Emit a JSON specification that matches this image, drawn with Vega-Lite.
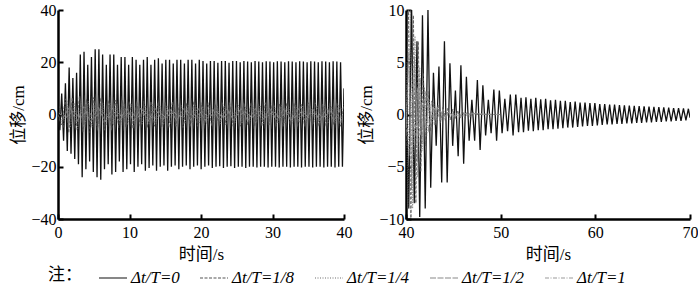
{
"$schema": "https://vega.github.io/schema/vega-lite/v6.json",
"padding": {"left": 9, "top": 2, "right": 0, "bottom": 0},
"background": "white",
"bounds": "flush",
"spacing": 62,
"config": {
  "font": "Liberation Serif",
  "view": {"stroke": null},
  "axis": {"grid": false, "domainColor": "#000", "domainWidth": 2.5, "tickColor": "#000", "tickWidth": 2, "tickSize": -5, "labelFont": "Liberation Serif", "labelFontSize": 16, "labelColor": "#000", "titleFont": "Liberation Serif, Noto Sans CJK SC", "titleFontSize": 17, "titleFontWeight": "normal", "titleColor": "#000", "labelFlush": false},
  "axisX": {"titlePadding": 6, "labelPadding": 10},
  "axisY": {"titlePadding": 3, "labelPadding": 7},
  "legend": {"orient": "none", "legendX": -10, "legendY": 253, "direction": "horizontal", "titleOrient": "left", "symbolType": "stroke", "symbolSize": 784, "symbolStrokeWidth": 1.2, "labelFont": "Liberation Serif", "labelFontSize": 17, "labelFontStyle": "italic", "labelColor": "#000", "labelOffset": 3, "columnPadding": 17, "titleFont": "Noto Sans CJK SC", "titleFontSize": 17, "titleFontWeight": "normal", "titleColor": "#000", "titlePadding": 16}
},
"datasets": {
"L": [
{"s":"0","t":0,"y":0},{"s":"0","t":0.26,"y":-6},{"s":"0","t":0.52,"y":8},{"s":"0","t":0.78,"y":-10},{"s":"0","t":1.04,"y":12},{"s":"0","t":1.3,"y":-14},{"s":"0","t":1.56,"y":18},{"s":"0","t":1.82,"y":-15},{"s":"0","t":2.08,"y":14},{"s":"0","t":2.34,"y":-17},{"s":"0","t":2.6,"y":16},{"s":"0","t":2.86,"y":-19},{"s":"0","t":3.12,"y":23},{"s":"0","t":3.38,"y":-24},{"s":"0","t":3.64,"y":24},{"s":"0","t":3.9,"y":-21},{"s":"0","t":4.16,"y":19},{"s":"0","t":4.42,"y":-18},{"s":"0","t":4.68,"y":22},{"s":"0","t":4.94,"y":-22},{"s":"0","t":5.2,"y":25},{"s":"0","t":5.46,"y":-24},{"s":"0","t":5.72,"y":25},{"s":"0","t":5.98,"y":-25},{"s":"0","t":6.24,"y":23},{"s":"0","t":6.5,"y":-21},{"s":"0","t":6.76,"y":19},{"s":"0","t":7.02,"y":-19},{"s":"0","t":7.28,"y":23},{"s":"0","t":7.54,"y":-23},{"s":"0","t":7.8,"y":23},{"s":"0","t":8.06,"y":-22},{"s":"0","t":8.32,"y":19},{"s":"0","t":8.58,"y":-18},{"s":"0","t":8.84,"y":22},{"s":"0","t":9.1,"y":-22},{"s":"0","t":9.36,"y":22},{"s":"0","t":9.62,"y":-21},{"s":"0","t":9.88,"y":19},{"s":"0","t":10.14,"y":-19},{"s":"0","t":10.4,"y":22},{"s":"0","t":10.66,"y":-22},{"s":"0","t":10.92,"y":21},{"s":"0","t":11.18,"y":-20},{"s":"0","t":11.44,"y":19},{"s":"0","t":11.7,"y":-19},{"s":"0","t":11.96,"y":21},{"s":"0","t":12.22,"y":-21.5},{"s":"0","t":12.48,"y":22},{"s":"0","t":12.74,"y":-20.5},{"s":"0","t":13,"y":19},{"s":"0","t":13.26,"y":-19.5},{"s":"0","t":13.52,"y":21},{"s":"0","t":13.78,"y":-21.5},{"s":"0","t":14.04,"y":21.5},{"s":"0","t":14.3,"y":-20},{"s":"0","t":14.56,"y":19.5},{"s":"0","t":14.82,"y":-19.5},{"s":"0","t":15.08,"y":21},{"s":"0","t":15.34,"y":-21.5},{"s":"0","t":15.6,"y":21},{"s":"0","t":15.86,"y":-20},{"s":"0","t":16.12,"y":19.5},{"s":"0","t":16.38,"y":-19.5},{"s":"0","t":16.64,"y":21},{"s":"0","t":16.9,"y":-21},{"s":"0","t":17.16,"y":21},{"s":"0","t":17.42,"y":-20},{"s":"0","t":17.68,"y":19.5},{"s":"0","t":17.94,"y":-19.5},{"s":"0","t":18.2,"y":21},{"s":"0","t":18.46,"y":-21},{"s":"0","t":18.72,"y":21},{"s":"0","t":18.98,"y":-20},{"s":"0","t":19.24,"y":19.5},{"s":"0","t":19.5,"y":-19.5},{"s":"0","t":19.76,"y":21},{"s":"0","t":20.02,"y":-21},{"s":"0","t":20.28,"y":20.5},{"s":"0","t":20.54,"y":-20},{"s":"0","t":20.8,"y":19.5},{"s":"0","t":21.06,"y":-19.5},{"s":"0","t":21.32,"y":20.5},{"s":"0","t":21.58,"y":-20.5},{"s":"0","t":21.84,"y":20.5},{"s":"0","t":22.1,"y":-20},{"s":"0","t":22.36,"y":19.8},{"s":"0","t":22.62,"y":-19.8},{"s":"0","t":22.88,"y":20.5},{"s":"0","t":23.14,"y":-20.5},{"s":"0","t":23.4,"y":20.5},{"s":"0","t":23.66,"y":-20},{"s":"0","t":23.92,"y":19.8},{"s":"0","t":24.18,"y":-19.8},{"s":"0","t":24.44,"y":20.5},{"s":"0","t":24.7,"y":-20.5},{"s":"0","t":24.96,"y":20.5},{"s":"0","t":25.22,"y":-20},{"s":"0","t":25.48,"y":20},{"s":"0","t":25.74,"y":-20},{"s":"0","t":26,"y":20.5},{"s":"0","t":26.26,"y":-20.5},{"s":"0","t":26.52,"y":20.3},{"s":"0","t":26.78,"y":-20},{"s":"0","t":27.04,"y":20},{"s":"0","t":27.3,"y":-20},{"s":"0","t":27.56,"y":20.5},{"s":"0","t":27.82,"y":-20.3},{"s":"0","t":28.08,"y":20.3},{"s":"0","t":28.34,"y":-20},{"s":"0","t":28.6,"y":20},{"s":"0","t":28.86,"y":-20},{"s":"0","t":29.12,"y":20.4},{"s":"0","t":29.38,"y":-20.3},{"s":"0","t":29.64,"y":20.3},{"s":"0","t":29.9,"y":-20},{"s":"0","t":30.16,"y":20},{"s":"0","t":30.42,"y":-20},{"s":"0","t":30.68,"y":20.4},{"s":"0","t":30.94,"y":-20.3},{"s":"0","t":31.2,"y":20.3},{"s":"0","t":31.46,"y":-20},{"s":"0","t":31.72,"y":20},{"s":"0","t":31.98,"y":-20},{"s":"0","t":32.24,"y":20.4},{"s":"0","t":32.5,"y":-20.3},{"s":"0","t":32.76,"y":20.3},{"s":"0","t":33.02,"y":-20},{"s":"0","t":33.28,"y":20},{"s":"0","t":33.54,"y":-20},{"s":"0","t":33.8,"y":20.4},{"s":"0","t":34.06,"y":-20.3},{"s":"0","t":34.32,"y":20.3},{"s":"0","t":34.58,"y":-20},{"s":"0","t":34.84,"y":20},{"s":"0","t":35.1,"y":-20},{"s":"0","t":35.36,"y":20.4},{"s":"0","t":35.62,"y":-20.3},{"s":"0","t":35.88,"y":20.3},{"s":"0","t":36.14,"y":-20},{"s":"0","t":36.4,"y":20},{"s":"0","t":36.66,"y":-20},{"s":"0","t":36.92,"y":20.4},{"s":"0","t":37.18,"y":-20.3},{"s":"0","t":37.44,"y":20.3},{"s":"0","t":37.7,"y":-20},{"s":"0","t":37.96,"y":20},{"s":"0","t":38.22,"y":-20},{"s":"0","t":38.48,"y":20.4},{"s":"0","t":38.74,"y":-20.3},{"s":"0","t":39,"y":20.3},{"s":"0","t":39.26,"y":-20},{"s":"0","t":39.52,"y":20},{"s":"0","t":39.78,"y":-20},{"s":"0","t":40,"y":10},
{"s":"1/8","t":0,"y":0},{"s":"1/8","t":0.5,"y":-4},{"s":"1/8","t":1,"y":6},{"s":"1/8","t":1.5,"y":-7},{"s":"1/8","t":2,"y":6.5},{"s":"1/8","t":2.5,"y":-6},{"s":"1/8","t":3,"y":7},{"s":"1/8","t":3.5,"y":-6.5},{"s":"1/8","t":4,"y":6},{"s":"1/8","t":4.5,"y":-7},{"s":"1/8","t":5,"y":6.5},{"s":"1/8","t":5.5,"y":-6},{"s":"1/8","t":6,"y":6.5},{"s":"1/8","t":6.5,"y":-6},{"s":"1/8","t":7,"y":5.5},{"s":"1/8","t":7.5,"y":-6},{"s":"1/8","t":8,"y":5.5},{"s":"1/8","t":8.5,"y":-5},{"s":"1/8","t":9,"y":5.5},{"s":"1/8","t":9.5,"y":-5},{"s":"1/8","t":10,"y":5},{"s":"1/8","t":10.5,"y":-5.5},{"s":"1/8","t":11,"y":5},{"s":"1/8","t":11.5,"y":-4.5},{"s":"1/8","t":12,"y":5},{"s":"1/8","t":12.5,"y":-5},{"s":"1/8","t":13,"y":5},{"s":"1/8","t":13.5,"y":-4.5},{"s":"1/8","t":14,"y":5},{"s":"1/8","t":14.5,"y":-5},{"s":"1/8","t":15,"y":4.5},{"s":"1/8","t":15.5,"y":-5},{"s":"1/8","t":16,"y":5},{"s":"1/8","t":16.5,"y":-4.5},{"s":"1/8","t":17,"y":4.5},{"s":"1/8","t":17.5,"y":-5},{"s":"1/8","t":18,"y":4.5},{"s":"1/8","t":18.5,"y":-4.5},{"s":"1/8","t":19,"y":5},{"s":"1/8","t":19.5,"y":-4.5},{"s":"1/8","t":20,"y":4.5},{"s":"1/8","t":20.5,"y":-4},{"s":"1/8","t":21,"y":4.5},{"s":"1/8","t":21.5,"y":-4.5},{"s":"1/8","t":22,"y":4},{"s":"1/8","t":22.5,"y":-4.5},{"s":"1/8","t":23,"y":4.5},{"s":"1/8","t":23.5,"y":-4},{"s":"1/8","t":24,"y":4.5},{"s":"1/8","t":24.5,"y":-4.5},{"s":"1/8","t":25,"y":4},{"s":"1/8","t":25.5,"y":-4.5},{"s":"1/8","t":26,"y":4.5},{"s":"1/8","t":26.5,"y":-4},{"s":"1/8","t":27,"y":4.5},{"s":"1/8","t":27.5,"y":-4.5},{"s":"1/8","t":28,"y":4},{"s":"1/8","t":28.5,"y":-4.5},{"s":"1/8","t":29,"y":4.5},{"s":"1/8","t":29.5,"y":-4},{"s":"1/8","t":30,"y":4.5},{"s":"1/8","t":30.5,"y":-4.5},{"s":"1/8","t":31,"y":4},{"s":"1/8","t":31.5,"y":-4.5},{"s":"1/8","t":32,"y":4.5},{"s":"1/8","t":32.5,"y":-4},{"s":"1/8","t":33,"y":4.5},{"s":"1/8","t":33.5,"y":-4.5},{"s":"1/8","t":34,"y":4},{"s":"1/8","t":34.5,"y":-4.5},{"s":"1/8","t":35,"y":4.5},{"s":"1/8","t":35.5,"y":-4},{"s":"1/8","t":36,"y":4.5},{"s":"1/8","t":36.5,"y":-4.5},{"s":"1/8","t":37,"y":4},{"s":"1/8","t":37.5,"y":-4.5},{"s":"1/8","t":38,"y":4.5},{"s":"1/8","t":38.5,"y":-4},{"s":"1/8","t":39,"y":4.5},{"s":"1/8","t":39.5,"y":-4.5},{"s":"1/8","t":40,"y":4},
{"s":"1/4","t":0.25,"y":3},{"s":"1/4","t":0.75,"y":-5},{"s":"1/4","t":1.25,"y":5.5},{"s":"1/4","t":1.75,"y":-5},{"s":"1/4","t":2.25,"y":4.5},{"s":"1/4","t":2.75,"y":-5.5},{"s":"1/4","t":3.25,"y":5},{"s":"1/4","t":3.75,"y":-4.5},{"s":"1/4","t":4.25,"y":5},{"s":"1/4","t":4.75,"y":-5},{"s":"1/4","t":5.25,"y":4.5},{"s":"1/4","t":5.75,"y":-5},{"s":"1/4","t":6.25,"y":4.5},{"s":"1/4","t":6.75,"y":-4},{"s":"1/4","t":7.25,"y":4.5},{"s":"1/4","t":7.75,"y":-4},{"s":"1/4","t":8.25,"y":4},{"s":"1/4","t":8.75,"y":-4.5},{"s":"1/4","t":9.25,"y":4},{"s":"1/4","t":9.75,"y":-4},{"s":"1/4","t":10.25,"y":4},{"s":"1/4","t":10.75,"y":-3.5},{"s":"1/4","t":11.25,"y":4},{"s":"1/4","t":11.75,"y":-4},{"s":"1/4","t":12.25,"y":3.5},{"s":"1/4","t":12.75,"y":-4},{"s":"1/4","t":13.25,"y":4},{"s":"1/4","t":13.75,"y":-3.5},{"s":"1/4","t":14.25,"y":3.5},{"s":"1/4","t":14.75,"y":-4},{"s":"1/4","t":15.25,"y":3.5},{"s":"1/4","t":15.75,"y":-3.5},{"s":"1/4","t":16.25,"y":4},{"s":"1/4","t":16.75,"y":-3.5},{"s":"1/4","t":17.25,"y":3.5},{"s":"1/4","t":17.75,"y":-3.5},{"s":"1/4","t":18.25,"y":3.5},{"s":"1/4","t":18.75,"y":-3.5},{"s":"1/4","t":19.25,"y":3.5},{"s":"1/4","t":19.75,"y":-3.5},{"s":"1/4","t":20.25,"y":3.2},{"s":"1/4","t":20.75,"y":-3.5},{"s":"1/4","t":21.25,"y":3.5},{"s":"1/4","t":21.75,"y":-3.2},{"s":"1/4","t":22.25,"y":3.5},{"s":"1/4","t":22.75,"y":-3.5},{"s":"1/4","t":23.25,"y":3.2},{"s":"1/4","t":23.75,"y":-3.5},{"s":"1/4","t":24.25,"y":3.5},{"s":"1/4","t":24.75,"y":-3.2},{"s":"1/4","t":25.25,"y":3.5},{"s":"1/4","t":25.75,"y":-3.5},{"s":"1/4","t":26.25,"y":3.2},{"s":"1/4","t":26.75,"y":-3.5},{"s":"1/4","t":27.25,"y":3.5},{"s":"1/4","t":27.75,"y":-3.2},{"s":"1/4","t":28.25,"y":3.5},{"s":"1/4","t":28.75,"y":-3.5},{"s":"1/4","t":29.25,"y":3.2},{"s":"1/4","t":29.75,"y":-3.5},{"s":"1/4","t":30.25,"y":3.5},{"s":"1/4","t":30.75,"y":-3.2},{"s":"1/4","t":31.25,"y":3.5},{"s":"1/4","t":31.75,"y":-3.5},{"s":"1/4","t":32.25,"y":3.2},{"s":"1/4","t":32.75,"y":-3.5},{"s":"1/4","t":33.25,"y":3.5},{"s":"1/4","t":33.75,"y":-3.2},{"s":"1/4","t":34.25,"y":3.5},{"s":"1/4","t":34.75,"y":-3.5},{"s":"1/4","t":35.25,"y":3.2},{"s":"1/4","t":35.75,"y":-3.5},{"s":"1/4","t":36.25,"y":3.5},{"s":"1/4","t":36.75,"y":-3.2},{"s":"1/4","t":37.25,"y":3.5},{"s":"1/4","t":37.75,"y":-3.5},{"s":"1/4","t":38.25,"y":3.2},{"s":"1/4","t":38.75,"y":-3.5},{"s":"1/4","t":39.25,"y":3.5},{"s":"1/4","t":39.75,"y":-3.2},
{"s":"1/2","t":0.6,"y":-2},{"s":"1/2","t":1.6,"y":3},{"s":"1/2","t":2.6,"y":-3},{"s":"1/2","t":3.6,"y":3},{"s":"1/2","t":4.6,"y":-3},{"s":"1/2","t":5.6,"y":2.8},{"s":"1/2","t":6.6,"y":-2.8},{"s":"1/2","t":7.6,"y":2.5},{"s":"1/2","t":8.6,"y":-2.5},{"s":"1/2","t":9.6,"y":2.5},{"s":"1/2","t":10.6,"y":-2.5},{"s":"1/2","t":11.6,"y":2.5},{"s":"1/2","t":12.6,"y":-2.5},{"s":"1/2","t":13.6,"y":2.3},{"s":"1/2","t":14.6,"y":-2.3},{"s":"1/2","t":15.6,"y":2.3},{"s":"1/2","t":16.6,"y":-2.3},{"s":"1/2","t":17.6,"y":2.3},{"s":"1/2","t":18.6,"y":-2.3},{"s":"1/2","t":19.6,"y":2.3},{"s":"1/2","t":20.6,"y":-2.3},{"s":"1/2","t":21.6,"y":2.3},{"s":"1/2","t":22.6,"y":-2.3},{"s":"1/2","t":23.6,"y":2.3},{"s":"1/2","t":24.6,"y":-2.3},{"s":"1/2","t":25.6,"y":2.3},{"s":"1/2","t":26.6,"y":-2.3},{"s":"1/2","t":27.6,"y":2.3},{"s":"1/2","t":28.6,"y":-2.3},{"s":"1/2","t":29.6,"y":2.3},{"s":"1/2","t":30.6,"y":-2.3},{"s":"1/2","t":31.6,"y":2.3},{"s":"1/2","t":32.6,"y":-2.3},{"s":"1/2","t":33.6,"y":2.3},{"s":"1/2","t":34.6,"y":-2.3},{"s":"1/2","t":35.6,"y":2.3},{"s":"1/2","t":36.6,"y":-2.3},{"s":"1/2","t":37.6,"y":2.3},{"s":"1/2","t":38.6,"y":-2.3},{"s":"1/2","t":39.6,"y":2.3},
{"s":"1","t":0.1,"y":0.5},{"s":"1","t":1.1,"y":-1.2},{"s":"1","t":2.1,"y":1.2},{"s":"1","t":3.1,"y":-1.2},{"s":"1","t":4.1,"y":1.2},{"s":"1","t":5.1,"y":-1.2},{"s":"1","t":6.1,"y":1.2},{"s":"1","t":7.1,"y":-1.2},{"s":"1","t":8.1,"y":1.2},{"s":"1","t":9.1,"y":-1.2},{"s":"1","t":10.1,"y":1.2},{"s":"1","t":11.1,"y":-1.2},{"s":"1","t":12.1,"y":1.2},{"s":"1","t":13.1,"y":-1.2},{"s":"1","t":14.1,"y":1.2},{"s":"1","t":15.1,"y":-1.2},{"s":"1","t":16.1,"y":1.2},{"s":"1","t":17.1,"y":-1.2},{"s":"1","t":18.1,"y":1.2},{"s":"1","t":19.1,"y":-1.2},{"s":"1","t":20.1,"y":1.2},{"s":"1","t":21.1,"y":-1.2},{"s":"1","t":22.1,"y":1.2},{"s":"1","t":23.1,"y":-1.2},{"s":"1","t":24.1,"y":1.2},{"s":"1","t":25.1,"y":-1.2},{"s":"1","t":26.1,"y":1.2},{"s":"1","t":27.1,"y":-1.2},{"s":"1","t":28.1,"y":1.2},{"s":"1","t":29.1,"y":-1.2},{"s":"1","t":30.1,"y":1.2},{"s":"1","t":31.1,"y":-1.2},{"s":"1","t":32.1,"y":1.2},{"s":"1","t":33.1,"y":-1.2},{"s":"1","t":34.1,"y":1.2},{"s":"1","t":35.1,"y":-1.2},{"s":"1","t":36.1,"y":1.2},{"s":"1","t":37.1,"y":-1.2},{"s":"1","t":38.1,"y":1.2},{"s":"1","t":39.1,"y":-1.2}
],
"R": [
{"s":"0","t":40,"y":3},{"s":"0","t":40.29,"y":-9},{"s":"0","t":40.58,"y":11},{"s":"0","t":40.87,"y":-8.5},{"s":"0","t":41.16,"y":7},{"s":"0","t":41.45,"y":-9.8},{"s":"0","t":41.74,"y":9.5},{"s":"0","t":42.03,"y":-9},{"s":"0","t":42.32,"y":10},{"s":"0","t":42.61,"y":-7},{"s":"0","t":42.9,"y":4},{"s":"0","t":43.19,"y":-3},{"s":"0","t":43.48,"y":4.6},{"s":"0","t":43.77,"y":-6.5},{"s":"0","t":44.06,"y":7},{"s":"0","t":44.35,"y":-6.5},{"s":"0","t":44.64,"y":4.9},{"s":"0","t":44.93,"y":-3},{"s":"0","t":45.22,"y":2.3},{"s":"0","t":45.51,"y":-4},{"s":"0","t":45.8,"y":4.7},{"s":"0","t":46.09,"y":-4.7},{"s":"0","t":46.38,"y":3.6},{"s":"0","t":46.67,"y":-2.5},{"s":"0","t":46.96,"y":1.4},{"s":"0","t":47.25,"y":-2.5},{"s":"0","t":47.54,"y":3.3},{"s":"0","t":47.83,"y":-3.4},{"s":"0","t":48.12,"y":2.8},{"s":"0","t":48.41,"y":-2},{"s":"0","t":48.7,"y":1.4},{"s":"0","t":48.99,"y":-1.8},{"s":"0","t":49.28,"y":2.4},{"s":"0","t":49.57,"y":-2.5},{"s":"0","t":49.86,"y":2.3},{"s":"0","t":50.15,"y":-1.8},{"s":"0","t":50.44,"y":1.5},{"s":"0","t":50.73,"y":-1.6},{"s":"0","t":51.02,"y":1.9},{"s":"0","t":51.31,"y":-2},{"s":"0","t":51.6,"y":1.9},{"s":"0","t":51.89,"y":-1.7},
{"s":"0","t":52.15,"y":1.6},{"s":"0","t":52.41,"y":-1.7},{"s":"0","t":52.67,"y":1.65},{"s":"0","t":52.93,"y":-1.55},{"s":"0","t":53.19,"y":1.5},{"s":"0","t":53.45,"y":-1.6},{"s":"0","t":53.71,"y":1.6},{"s":"0","t":53.97,"y":-1.5},{"s":"0","t":54.23,"y":1.45},{"s":"0","t":54.49,"y":-1.5},{"s":"0","t":54.75,"y":1.5},{"s":"0","t":55.01,"y":-1.4},{"s":"0","t":55.27,"y":1.35},{"s":"0","t":55.53,"y":-1.4},{"s":"0","t":55.79,"y":1.4},{"s":"0","t":56.05,"y":-1.35},{"s":"0","t":56.31,"y":1.3},{"s":"0","t":56.57,"y":-1.3},{"s":"0","t":56.83,"y":1.3},{"s":"0","t":57.09,"y":-1.25},{"s":"0","t":57.35,"y":1.2},{"s":"0","t":57.61,"y":-1.25},{"s":"0","t":57.87,"y":1.25},{"s":"0","t":58.13,"y":-1.2},{"s":"0","t":58.39,"y":1.15},{"s":"0","t":58.65,"y":-1.15},{"s":"0","t":58.91,"y":1.15},{"s":"0","t":59.17,"y":-1.1},{"s":"0","t":59.43,"y":1.1},{"s":"0","t":59.69,"y":-1.1},{"s":"0","t":59.95,"y":1.1},{"s":"0","t":60.21,"y":-1.05},{"s":"0","t":60.47,"y":1},{"s":"0","t":60.73,"y":-1},{"s":"0","t":60.99,"y":1},{"s":"0","t":61.25,"y":-0.95},{"s":"0","t":61.51,"y":0.95},{"s":"0","t":61.77,"y":-0.95},{"s":"0","t":62.03,"y":0.95},{"s":"0","t":62.29,"y":-0.9},{"s":"0","t":62.55,"y":0.9},{"s":"0","t":62.81,"y":-0.9},{"s":"0","t":63.07,"y":0.88},{"s":"0","t":63.33,"y":-0.85},{"s":"0","t":63.59,"y":0.85},{"s":"0","t":63.85,"y":-0.85},{"s":"0","t":64.11,"y":0.82},{"s":"0","t":64.37,"y":-0.8},{"s":"0","t":64.63,"y":0.8},{"s":"0","t":64.89,"y":-0.8},{"s":"0","t":65.15,"y":0.78},{"s":"0","t":65.41,"y":-0.75},{"s":"0","t":65.67,"y":0.75},{"s":"0","t":65.93,"y":-0.75},{"s":"0","t":66.19,"y":0.72},{"s":"0","t":66.45,"y":-0.7},{"s":"0","t":66.71,"y":0.7},{"s":"0","t":66.97,"y":-0.7},{"s":"0","t":67.23,"y":0.68},{"s":"0","t":67.49,"y":-0.65},{"s":"0","t":67.75,"y":0.65},{"s":"0","t":68.01,"y":-0.65},{"s":"0","t":68.27,"y":0.62},{"s":"0","t":68.53,"y":-0.6},{"s":"0","t":68.79,"y":0.6},{"s":"0","t":69.05,"y":-0.6},{"s":"0","t":69.31,"y":0.58},{"s":"0","t":69.57,"y":-0.55},{"s":"0","t":69.83,"y":0.55},{"s":"0","t":70,"y":-0.3},
{"s":"1/8","t":40,"y":-3},{"s":"1/8","t":40.26,"y":10.5},{"s":"1/8","t":40.52,"y":-11},{"s":"1/8","t":40.78,"y":9.5},{"s":"1/8","t":41.04,"y":-8.5},{"s":"1/8","t":41.3,"y":7},{"s":"1/8","t":41.56,"y":-5.5},{"s":"1/8","t":41.82,"y":4},{"s":"1/8","t":42.08,"y":-3},{"s":"1/8","t":42.34,"y":2.2},{"s":"1/8","t":42.6,"y":-1.6},{"s":"1/8","t":42.86,"y":1.2},{"s":"1/8","t":43.12,"y":-1},{"s":"1/8","t":43.38,"y":0.9},{"s":"1/8","t":43.64,"y":-0.8},{"s":"1/8","t":43.9,"y":0.7},{"s":"1/8","t":44.16,"y":-0.6},{"s":"1/8","t":44.42,"y":0.6},{"s":"1/8","t":44.68,"y":-0.5},{"s":"1/8","t":44.94,"y":0.5},{"s":"1/8","t":45.2,"y":-0.45},{"s":"1/8","t":45.46,"y":0.4},{"s":"1/8","t":45.72,"y":-0.4},{"s":"1/8","t":45.98,"y":0.35},{"s":"1/8","t":46.24,"y":-0.3},{"s":"1/8","t":46.5,"y":0.3},{"s":"1/8","t":46.76,"y":-0.25},{"s":"1/8","t":47.02,"y":0.2},{"s":"1/8","t":47.5,"y":0},{"s":"1/8","t":50,"y":0},
{"s":"1/4","t":40,"y":5},{"s":"1/4","t":40.2,"y":-9},{"s":"1/4","t":40.45,"y":10.5},{"s":"1/4","t":40.7,"y":-9},{"s":"1/4","t":40.95,"y":7.5},{"s":"1/4","t":41.2,"y":-6},{"s":"1/4","t":41.45,"y":4.5},{"s":"1/4","t":41.7,"y":-3.5},{"s":"1/4","t":41.95,"y":2.6},{"s":"1/4","t":42.2,"y":-2},{"s":"1/4","t":42.45,"y":1.5},{"s":"1/4","t":42.7,"y":-1.2},{"s":"1/4","t":42.95,"y":1},{"s":"1/4","t":43.2,"y":-0.8},{"s":"1/4","t":43.45,"y":0.7},{"s":"1/4","t":43.7,"y":-0.6},{"s":"1/4","t":43.95,"y":0.5},{"s":"1/4","t":44.2,"y":-0.45},{"s":"1/4","t":44.45,"y":0.4},{"s":"1/4","t":44.7,"y":-0.35},{"s":"1/4","t":44.95,"y":0.3},{"s":"1/4","t":45.2,"y":-0.3},{"s":"1/4","t":45.45,"y":0.25},{"s":"1/4","t":45.7,"y":-0.2},{"s":"1/4","t":46,"y":0.2},{"s":"1/4","t":46.5,"y":-0.15},{"s":"1/4","t":47,"y":0.1},{"s":"1/4","t":48,"y":0},
{"s":"1/2","t":40,"y":-2},{"s":"1/2","t":40.3,"y":6},{"s":"1/2","t":40.6,"y":-7},{"s":"1/2","t":40.9,"y":5.5},{"s":"1/2","t":41.2,"y":-4.5},{"s":"1/2","t":41.5,"y":3.5},{"s":"1/2","t":41.8,"y":-2.8},{"s":"1/2","t":42.1,"y":2.2},{"s":"1/2","t":42.4,"y":-1.7},{"s":"1/2","t":42.7,"y":1.3},{"s":"1/2","t":43,"y":-1},{"s":"1/2","t":43.3,"y":0.8},{"s":"1/2","t":43.6,"y":-0.6},{"s":"1/2","t":43.9,"y":0.5},{"s":"1/2","t":44.2,"y":-0.4},{"s":"1/2","t":44.5,"y":0.3},{"s":"1/2","t":45,"y":-0.25},{"s":"1/2","t":45.5,"y":0.2},{"s":"1/2","t":46,"y":-0.15},{"s":"1/2","t":47,"y":0.1},{"s":"1/2","t":49,"y":0},
{"s":"1","t":40,"y":1},{"s":"1","t":40.3,"y":-4},{"s":"1","t":40.6,"y":3.5},{"s":"1","t":40.9,"y":-3},{"s":"1","t":41.2,"y":2.5},{"s":"1","t":41.5,"y":-2},{"s":"1","t":41.8,"y":1.5},{"s":"1","t":42.1,"y":-1.2},{"s":"1","t":42.4,"y":1},{"s":"1","t":42.7,"y":-0.8},{"s":"1","t":43,"y":0.6},{"s":"1","t":43.3,"y":-0.5},{"s":"1","t":43.6,"y":0.4},{"s":"1","t":44,"y":-0.3},{"s":"1","t":44.5,"y":0.25},{"s":"1","t":45,"y":-0.2},{"s":"1","t":46,"y":0.1},{"s":"1","t":50,"y":0}
]
},
"hconcat": [
{
  "width": 286, "height": 209,
  "data": {"name": "L"},
  "encoding": {
    "x": {"field": "t", "type": "quantitative", "scale": {"domain": [0, 40], "nice": false}, "axis": {"values": [0, 10, 20, 30, 40], "title": "时间/s"}},
    "y": {"field": "y", "type": "quantitative", "scale": {"domain": [-40, 40], "nice": false}, "axis": {"values": [-40, -20, 0, 20, 40], "title": "位移/cm"}},
    "color": {"field": "s", "type": "nominal", "scale": {"domain": ["0", "1/8", "1/4", "1/2", "1"], "range": ["#111111", "#555555", "#6e6e6e", "#888888", "#999999"]}, "legend": {"title": "注：", "labelExpr": "'Δt/T=' + datum.label"}},
    "strokeDash": {"field": "s", "type": "nominal", "scale": {"domain": ["0", "1/8", "1/4", "1/2", "1"], "range": [[1, 0], [3, 1.5], [1, 1.5], [6, 1.5], [4, 1.5, 1, 1.5]]}, "legend": {"title": "注：", "labelExpr": "'Δt/T=' + datum.label"}}
  },
  "layer": [
    {"transform": [{"filter": "datum.s == '0'"}], "mark": {"type": "line", "strokeWidth": 1.3, "clip": true}},
    {"transform": [{"filter": "datum.s != '0'"}], "mark": {"type": "line", "strokeWidth": 0.8, "clip": true}}
  ]
},
{
  "width": 284, "height": 209,
  "data": {"name": "R"},
  "encoding": {
    "x": {"field": "t", "type": "quantitative", "scale": {"domain": [40, 70], "nice": false}, "axis": {"values": [40, 50, 60, 70], "title": "时间/s"}},
    "y": {"field": "y", "type": "quantitative", "scale": {"domain": [-10, 10], "nice": false}, "axis": {"values": [-10, -5, 0, 5, 10], "title": "位移/cm"}},
    "color": {"field": "s", "type": "nominal", "scale": {"domain": ["0", "1/8", "1/4", "1/2", "1"], "range": ["#111111", "#555555", "#6e6e6e", "#888888", "#999999"]}, "legend": {"title": "注：", "labelExpr": "'Δt/T=' + datum.label"}},
    "strokeDash": {"field": "s", "type": "nominal", "scale": {"domain": ["0", "1/8", "1/4", "1/2", "1"], "range": [[1, 0], [3, 1.5], [1, 1.5], [6, 1.5], [4, 1.5, 1, 1.5]]}, "legend": {"title": "注：", "labelExpr": "'Δt/T=' + datum.label"}}
  },
  "layer": [
    {"transform": [{"filter": "datum.s == '0'"}], "mark": {"type": "line", "strokeWidth": 1.3, "clip": true}},
    {"transform": [{"filter": "datum.s != '0'"}], "mark": {"type": "line", "strokeWidth": 0.8, "clip": true}}
  ]
}
],
"resolve": {"scale": {"x": "independent", "y": "independent"}}
}
